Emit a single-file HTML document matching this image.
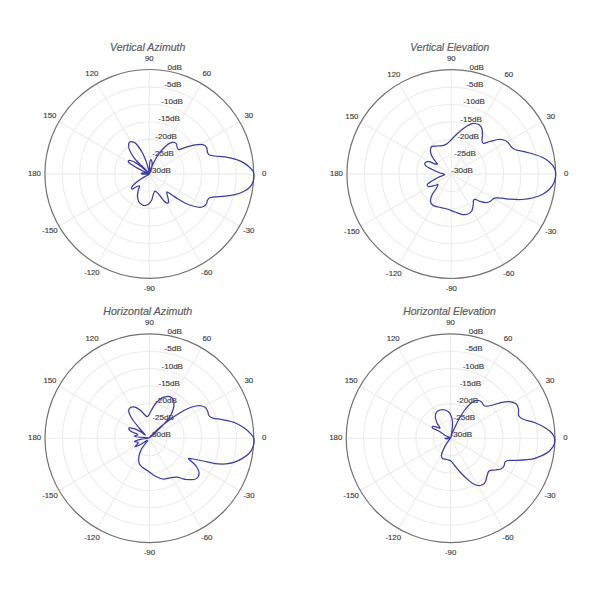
<!DOCTYPE html>
<html><head><meta charset="utf-8"><style>
html,body{margin:0;padding:0;background:#fff;width:600px;height:600px;overflow:hidden}
svg{display:block}
text{font-family:"Liberation Sans",sans-serif}
.t{font-style:italic;fill:#5e5e5e;font-size:10.2px;stroke:#5e5e5e;stroke-width:0.2px}
.l{fill:#3c3c3c;font-size:7.8px;stroke:#3c3c3c;stroke-width:0.15px}
.r{fill:#3c3c3c;font-size:7.6px;stroke:#3c3c3c;stroke-width:0.15px}
.g{fill:none;stroke:#ececec;stroke-width:1.1}
.o{fill:none;stroke:#727272;stroke-width:1.2}
.c{fill:none;stroke:#3c3cb0;stroke-width:1.25;stroke-linejoin:round}
</style></head><body>
<svg width="600" height="600" viewBox="0 0 600 600">
<g>
<circle class="g" cx="149.30" cy="173.90" r="17.40"/>
<circle class="g" cx="149.30" cy="173.90" r="34.80"/>
<circle class="g" cx="149.30" cy="173.90" r="52.20"/>
<circle class="g" cx="149.30" cy="173.90" r="69.60"/>
<circle class="g" cx="149.30" cy="173.90" r="87.00"/>
<line class="g" x1="149.30" y1="173.90" x2="253.70" y2="173.90"/>
<line class="g" x1="149.30" y1="173.90" x2="239.71" y2="121.70"/>
<line class="g" x1="149.30" y1="173.90" x2="201.50" y2="83.49"/>
<line class="g" x1="149.30" y1="173.90" x2="149.30" y2="69.50"/>
<line class="g" x1="149.30" y1="173.90" x2="97.10" y2="83.49"/>
<line class="g" x1="149.30" y1="173.90" x2="58.89" y2="121.70"/>
<line class="g" x1="149.30" y1="173.90" x2="44.90" y2="173.90"/>
<line class="g" x1="149.30" y1="173.90" x2="58.89" y2="226.10"/>
<line class="g" x1="149.30" y1="173.90" x2="97.10" y2="264.31"/>
<line class="g" x1="149.30" y1="173.90" x2="149.30" y2="278.30"/>
<line class="g" x1="149.30" y1="173.90" x2="201.50" y2="264.31"/>
<line class="g" x1="149.30" y1="173.90" x2="239.71" y2="226.10"/>
<circle class="o" cx="149.30" cy="173.90" r="104.40"/>
<text class="l" x="264.14" y="175.90" text-anchor="middle">0</text>
<text class="l" x="248.75" y="118.48" text-anchor="middle">30</text>
<text class="l" x="206.72" y="76.45" text-anchor="middle">60</text>
<text class="l" x="149.30" y="61.06" text-anchor="middle">90</text>
<text class="l" x="91.88" y="76.45" text-anchor="middle">120</text>
<text class="l" x="49.85" y="118.48" text-anchor="middle">150</text>
<text class="l" x="34.46" y="175.90" text-anchor="middle">180</text>
<text class="l" x="49.85" y="233.32" text-anchor="middle">-150</text>
<text class="l" x="91.88" y="275.35" text-anchor="middle">-120</text>
<text class="l" x="149.30" y="290.74" text-anchor="middle">-90</text>
<text class="l" x="206.72" y="275.35" text-anchor="middle">-60</text>
<text class="l" x="248.75" y="233.32" text-anchor="middle">-30</text>
<text class="r" x="149.30" y="172.80" textLength="21.50" lengthAdjust="spacingAndGlyphs">-30dB</text>
<text class="r" x="152.32" y="155.66" textLength="21.50" lengthAdjust="spacingAndGlyphs">-25dB</text>
<text class="r" x="155.34" y="138.53" textLength="21.50" lengthAdjust="spacingAndGlyphs">-20dB</text>
<text class="r" x="158.36" y="121.39" textLength="21.50" lengthAdjust="spacingAndGlyphs">-15dB</text>
<text class="r" x="161.39" y="104.26" textLength="21.50" lengthAdjust="spacingAndGlyphs">-10dB</text>
<text class="r" x="164.41" y="87.12" textLength="17.02" lengthAdjust="spacingAndGlyphs">-5dB</text>
<text class="r" x="167.43" y="69.99" textLength="14.33" lengthAdjust="spacingAndGlyphs">0dB</text>
<text class="t" x="110.00" y="50.80" textLength="75.30" lengthAdjust="spacingAndGlyphs">Vertical Azimuth</text>
<path class="c" d="M254.00,175.30 C253.97,173.60 253.75,172.65 253.00,171.30 C252.25,169.95 250.96,168.57 249.50,167.20 C248.04,165.83 246.38,164.37 244.25,163.10 C242.12,161.83 239.91,160.63 236.70,159.60 C233.49,158.57 228.62,157.50 225.00,156.90 C221.38,156.30 217.58,156.32 215.00,156.00 C212.42,155.68 210.75,155.58 209.50,155.00 C208.25,154.42 207.95,153.67 207.50,152.50 C207.05,151.33 207.30,149.22 206.80,148.00 C206.30,146.78 205.63,145.82 204.50,145.20 C203.37,144.58 201.58,144.35 200.00,144.30 C198.42,144.25 197.00,144.52 195.00,144.90 C193.00,145.28 190.17,145.98 188.00,146.60 C185.83,147.22 183.57,148.10 182.00,148.60 C180.43,149.10 179.40,149.73 178.60,149.60 C177.80,149.47 177.53,148.68 177.20,147.80 C176.87,146.92 177.03,145.18 176.60,144.30 C176.17,143.42 175.37,142.82 174.60,142.50 C173.83,142.18 173.10,142.10 172.00,142.40 C170.90,142.70 169.50,143.23 168.00,144.30 C166.50,145.37 164.67,147.02 163.00,148.80 C161.33,150.58 159.50,152.80 158.00,155.00 C156.50,157.20 155.17,159.75 154.00,162.00 C152.83,164.25 151.73,166.75 151.00,168.50 C150.27,170.25 149.85,172.58 149.60,172.50 C149.35,172.42 149.48,169.58 149.50,168.00 C149.52,166.42 149.48,164.40 149.70,163.00 C149.92,161.60 150.40,159.68 150.80,159.60 C151.20,159.52 151.97,161.10 152.10,162.50 C152.23,163.90 151.98,166.25 151.60,168.00 C151.22,169.75 150.28,172.58 149.80,173.00 C149.33,173.42 149.07,171.50 148.75,170.50 C148.43,169.50 148.39,168.67 147.90,167.00 C147.41,165.33 146.70,162.83 145.80,160.50 C144.90,158.17 143.75,155.33 142.50,153.00 C141.25,150.67 139.63,148.23 138.30,146.50 C136.97,144.77 135.72,143.42 134.50,142.60 C133.28,141.78 131.95,141.48 131.00,141.60 C130.05,141.72 129.13,142.18 128.80,143.30 C128.47,144.42 128.52,146.48 129.00,148.30 C129.48,150.12 130.57,152.25 131.70,154.20 C132.83,156.15 134.13,158.07 135.80,160.00 C137.47,161.93 139.88,164.00 141.70,165.80 C143.52,167.60 145.45,169.57 146.70,170.80 C147.95,172.03 149.07,173.02 149.20,173.20 C149.33,173.38 148.62,172.82 147.50,171.90 C146.38,170.98 144.30,169.12 142.50,167.70 C140.70,166.28 138.65,164.60 136.70,163.40 C134.75,162.20 132.20,160.87 130.80,160.50 C129.40,160.13 128.55,160.80 128.30,161.20 C128.05,161.60 128.18,161.98 129.30,162.90 C130.42,163.82 133.08,165.52 135.00,166.70 C136.92,167.88 138.85,169.02 140.80,170.00 C142.75,170.98 145.30,172.00 146.70,172.60 C148.10,173.20 149.32,173.50 149.20,173.60 C149.08,173.70 147.20,173.30 146.00,173.20 C144.80,173.10 142.75,172.90 142.00,173.00 C141.25,173.10 141.00,173.60 141.50,173.80 C142.00,174.00 143.72,174.17 145.00,174.20 C146.28,174.23 148.95,173.73 149.20,174.00 C149.45,174.27 147.75,175.05 146.50,175.80 C145.25,176.55 143.62,177.22 141.70,178.50 C139.78,179.78 136.68,182.03 135.00,183.50 C133.32,184.97 132.05,186.38 131.60,187.30 C131.15,188.22 131.65,189.00 132.30,189.00 C132.95,189.00 134.28,187.83 135.50,187.30 C136.72,186.77 139.13,185.35 139.60,185.80 C140.07,186.25 138.65,188.30 138.30,190.00 C137.95,191.70 137.42,194.05 137.50,196.00 C137.58,197.95 138.13,200.30 138.80,201.70 C139.47,203.10 140.55,203.77 141.50,204.40 C142.45,205.03 143.42,205.48 144.50,205.50 C145.58,205.52 146.83,205.33 148.00,204.50 C149.17,203.67 150.62,202.17 151.50,200.50 C152.38,198.83 152.72,196.05 153.30,194.50 C153.88,192.95 154.17,191.32 155.00,191.20 C155.83,191.08 157.13,192.57 158.30,193.80 C159.47,195.03 160.92,197.27 162.00,198.60 C163.08,199.93 164.02,201.05 164.80,201.80 C165.58,202.55 166.10,202.98 166.70,203.10 C167.30,203.22 168.13,203.13 168.40,202.50 C168.67,201.87 168.53,200.72 168.30,199.30 C168.07,197.88 167.17,195.22 167.00,194.00 C166.83,192.78 166.47,191.83 167.30,192.00 C168.13,192.17 170.22,193.83 172.00,195.00 C173.78,196.17 175.83,197.67 178.00,199.00 C180.17,200.33 182.50,201.83 185.00,203.00 C187.50,204.17 190.50,205.28 193.00,206.00 C195.50,206.72 198.17,207.25 200.00,207.30 C201.83,207.35 202.93,206.88 204.00,206.30 C205.07,205.72 205.82,204.80 206.40,203.80 C206.98,202.80 206.93,201.32 207.50,200.30 C208.07,199.28 208.55,198.27 209.80,197.70 C211.05,197.13 212.47,197.15 215.00,196.90 C217.53,196.65 221.67,196.58 225.00,196.20 C228.33,195.82 231.83,195.43 235.00,194.60 C238.17,193.77 241.50,192.47 244.00,191.20 C246.50,189.93 248.47,188.62 250.00,187.00 C251.53,185.38 252.53,183.45 253.20,181.50 C253.87,179.55 254.03,177.00 254.00,175.30Z"/>
<circle class="g" cx="451.30" cy="174.10" r="17.40"/>
<circle class="g" cx="451.30" cy="174.10" r="34.80"/>
<circle class="g" cx="451.30" cy="174.10" r="52.20"/>
<circle class="g" cx="451.30" cy="174.10" r="69.60"/>
<circle class="g" cx="451.30" cy="174.10" r="87.00"/>
<line class="g" x1="451.30" y1="174.10" x2="555.70" y2="174.10"/>
<line class="g" x1="451.30" y1="174.10" x2="541.71" y2="121.90"/>
<line class="g" x1="451.30" y1="174.10" x2="503.50" y2="83.69"/>
<line class="g" x1="451.30" y1="174.10" x2="451.30" y2="69.70"/>
<line class="g" x1="451.30" y1="174.10" x2="399.10" y2="83.69"/>
<line class="g" x1="451.30" y1="174.10" x2="360.89" y2="121.90"/>
<line class="g" x1="451.30" y1="174.10" x2="346.90" y2="174.10"/>
<line class="g" x1="451.30" y1="174.10" x2="360.89" y2="226.30"/>
<line class="g" x1="451.30" y1="174.10" x2="399.10" y2="264.51"/>
<line class="g" x1="451.30" y1="174.10" x2="451.30" y2="278.50"/>
<line class="g" x1="451.30" y1="174.10" x2="503.50" y2="264.51"/>
<line class="g" x1="451.30" y1="174.10" x2="541.71" y2="226.30"/>
<circle class="o" cx="451.30" cy="174.10" r="104.40"/>
<text class="l" x="566.14" y="176.10" text-anchor="middle">0</text>
<text class="l" x="550.75" y="118.68" text-anchor="middle">30</text>
<text class="l" x="508.72" y="76.65" text-anchor="middle">60</text>
<text class="l" x="451.30" y="61.26" text-anchor="middle">90</text>
<text class="l" x="393.88" y="76.65" text-anchor="middle">120</text>
<text class="l" x="351.85" y="118.68" text-anchor="middle">150</text>
<text class="l" x="336.46" y="176.10" text-anchor="middle">180</text>
<text class="l" x="351.85" y="233.52" text-anchor="middle">-150</text>
<text class="l" x="393.88" y="275.55" text-anchor="middle">-120</text>
<text class="l" x="451.30" y="290.94" text-anchor="middle">-90</text>
<text class="l" x="508.72" y="275.55" text-anchor="middle">-60</text>
<text class="l" x="550.75" y="233.52" text-anchor="middle">-30</text>
<text class="r" x="451.30" y="173.00" textLength="21.50" lengthAdjust="spacingAndGlyphs">-30dB</text>
<text class="r" x="454.32" y="155.86" textLength="21.50" lengthAdjust="spacingAndGlyphs">-25dB</text>
<text class="r" x="457.34" y="138.73" textLength="21.50" lengthAdjust="spacingAndGlyphs">-20dB</text>
<text class="r" x="460.36" y="121.59" textLength="21.50" lengthAdjust="spacingAndGlyphs">-15dB</text>
<text class="r" x="463.39" y="104.46" textLength="21.50" lengthAdjust="spacingAndGlyphs">-10dB</text>
<text class="r" x="466.41" y="87.32" textLength="17.02" lengthAdjust="spacingAndGlyphs">-5dB</text>
<text class="r" x="469.43" y="70.19" textLength="14.33" lengthAdjust="spacingAndGlyphs">0dB</text>
<text class="t" x="410.30" y="50.80" textLength="78.90" lengthAdjust="spacingAndGlyphs">Vertical Elevation</text>
<path class="c" d="M555.70,174.10 C555.70,171.77 555.30,169.98 554.30,168.00 C553.30,166.02 551.63,163.95 549.70,162.20 C547.77,160.45 545.43,158.87 542.70,157.50 C539.97,156.13 536.42,154.97 533.30,154.00 C530.18,153.03 527.05,152.45 524.00,151.70 C520.95,150.95 517.17,150.37 515.00,149.50 C512.83,148.63 512.17,147.67 511.00,146.50 C509.83,145.33 509.17,143.58 508.00,142.50 C506.83,141.42 505.67,140.50 504.00,140.00 C502.33,139.50 500.33,139.25 498.00,139.50 C495.67,139.75 492.42,140.87 490.00,141.50 C487.58,142.13 484.83,143.47 483.50,143.30 C482.17,143.13 482.17,141.88 482.00,140.50 C481.83,139.12 482.50,136.92 482.50,135.00 C482.50,133.08 482.50,130.67 482.00,129.00 C481.50,127.33 480.67,125.92 479.50,125.00 C478.33,124.08 476.58,123.62 475.00,123.50 C473.42,123.38 471.83,123.55 470.00,124.30 C468.17,125.05 466.00,126.55 464.00,128.00 C462.00,129.45 460.00,131.17 458.00,133.00 C456.00,134.83 453.83,137.20 452.00,139.00 C450.17,140.80 448.58,142.68 447.00,143.80 C445.42,144.92 444.17,145.33 442.50,145.70 C440.83,146.07 438.75,145.88 437.00,146.00 C435.25,146.12 433.08,145.82 432.00,146.40 C430.92,146.98 430.67,148.23 430.50,149.50 C430.33,150.77 430.58,152.58 431.00,154.00 C431.42,155.42 432.25,156.75 433.00,158.00 C433.75,159.25 434.75,160.47 435.50,161.50 C436.25,162.53 437.72,163.85 437.50,164.20 C437.28,164.55 435.58,164.02 434.20,163.60 C432.82,163.18 430.67,161.92 429.20,161.70 C427.73,161.48 426.00,161.65 425.40,162.30 C424.80,162.95 424.55,164.45 425.60,165.60 C426.65,166.75 429.47,168.05 431.70,169.20 C433.93,170.35 436.85,171.60 439.00,172.50 C441.15,173.40 444.77,173.77 444.60,174.60 C444.43,175.43 440.27,176.35 438.00,177.50 C435.73,178.65 432.75,180.37 431.00,181.50 C429.25,182.63 427.92,183.47 427.50,184.30 C427.08,185.13 427.25,186.30 428.50,186.50 C429.75,186.70 433.42,185.83 435.00,185.50 C436.58,185.17 437.83,183.92 438.00,184.50 C438.17,185.08 437.00,187.25 436.00,189.00 C435.00,190.75 432.92,193.00 432.00,195.00 C431.08,197.00 430.42,199.33 430.50,201.00 C430.58,202.67 431.25,204.00 432.50,205.00 C433.75,206.00 435.58,206.33 438.00,207.00 C440.42,207.67 444.17,208.17 447.00,209.00 C449.83,209.83 452.50,211.10 455.00,212.00 C457.50,212.90 459.83,214.07 462.00,214.40 C464.17,214.73 466.33,214.65 468.00,214.00 C469.67,213.35 471.12,212.17 472.00,210.50 C472.88,208.83 473.05,205.67 473.30,204.00 C473.55,202.33 473.17,201.27 473.50,200.50 C473.83,199.73 474.22,199.27 475.30,199.40 C476.38,199.53 478.22,200.78 480.00,201.30 C481.78,201.82 484.33,202.47 486.00,202.50 C487.67,202.53 488.83,202.08 490.00,201.50 C491.17,200.92 492.00,199.60 493.00,199.00 C494.00,198.40 494.50,198.03 496.00,197.90 C497.50,197.77 499.67,197.98 502.00,198.20 C504.33,198.42 506.72,198.98 510.00,199.20 C513.28,199.42 517.82,199.74 521.70,199.50 C525.58,199.26 529.80,198.62 533.30,197.75 C536.80,196.88 539.97,195.71 542.70,194.25 C545.43,192.79 547.77,191.04 549.70,189.00 C551.63,186.96 553.30,184.48 554.30,182.00 C555.30,179.52 555.70,176.43 555.70,174.10Z"/>
<circle class="g" cx="149.40" cy="438.20" r="17.40"/>
<circle class="g" cx="149.40" cy="438.20" r="34.80"/>
<circle class="g" cx="149.40" cy="438.20" r="52.20"/>
<circle class="g" cx="149.40" cy="438.20" r="69.60"/>
<circle class="g" cx="149.40" cy="438.20" r="87.00"/>
<line class="g" x1="149.40" y1="438.20" x2="253.80" y2="438.20"/>
<line class="g" x1="149.40" y1="438.20" x2="239.81" y2="386.00"/>
<line class="g" x1="149.40" y1="438.20" x2="201.60" y2="347.79"/>
<line class="g" x1="149.40" y1="438.20" x2="149.40" y2="333.80"/>
<line class="g" x1="149.40" y1="438.20" x2="97.20" y2="347.79"/>
<line class="g" x1="149.40" y1="438.20" x2="58.99" y2="386.00"/>
<line class="g" x1="149.40" y1="438.20" x2="45.00" y2="438.20"/>
<line class="g" x1="149.40" y1="438.20" x2="58.99" y2="490.40"/>
<line class="g" x1="149.40" y1="438.20" x2="97.20" y2="528.61"/>
<line class="g" x1="149.40" y1="438.20" x2="149.40" y2="542.60"/>
<line class="g" x1="149.40" y1="438.20" x2="201.60" y2="528.61"/>
<line class="g" x1="149.40" y1="438.20" x2="239.81" y2="490.40"/>
<circle class="o" cx="149.40" cy="438.20" r="104.40"/>
<text class="l" x="264.24" y="440.20" text-anchor="middle">0</text>
<text class="l" x="248.85" y="382.78" text-anchor="middle">30</text>
<text class="l" x="206.82" y="340.75" text-anchor="middle">60</text>
<text class="l" x="149.40" y="325.36" text-anchor="middle">90</text>
<text class="l" x="91.98" y="340.75" text-anchor="middle">120</text>
<text class="l" x="49.95" y="382.78" text-anchor="middle">150</text>
<text class="l" x="34.56" y="440.20" text-anchor="middle">180</text>
<text class="l" x="49.95" y="497.62" text-anchor="middle">-150</text>
<text class="l" x="91.98" y="539.65" text-anchor="middle">-120</text>
<text class="l" x="149.40" y="555.04" text-anchor="middle">-90</text>
<text class="l" x="206.82" y="539.65" text-anchor="middle">-60</text>
<text class="l" x="248.85" y="497.62" text-anchor="middle">-30</text>
<text class="r" x="149.40" y="437.10" textLength="21.50" lengthAdjust="spacingAndGlyphs">-30dB</text>
<text class="r" x="152.42" y="419.96" textLength="21.50" lengthAdjust="spacingAndGlyphs">-25dB</text>
<text class="r" x="155.44" y="402.83" textLength="21.50" lengthAdjust="spacingAndGlyphs">-20dB</text>
<text class="r" x="158.46" y="385.69" textLength="21.50" lengthAdjust="spacingAndGlyphs">-15dB</text>
<text class="r" x="161.49" y="368.56" textLength="21.50" lengthAdjust="spacingAndGlyphs">-10dB</text>
<text class="r" x="164.51" y="351.42" textLength="17.02" lengthAdjust="spacingAndGlyphs">-5dB</text>
<text class="r" x="167.53" y="334.29" textLength="14.33" lengthAdjust="spacingAndGlyphs">0dB</text>
<text class="t" x="103.25" y="315.40" textLength="88.95" lengthAdjust="spacingAndGlyphs">Horizontal Azimuth</text>
<path class="c" d="M254.00,439.00 C253.70,436.95 252.92,436.23 251.30,434.40 C249.68,432.57 247.02,429.94 244.30,428.00 C241.58,426.06 238.50,424.12 235.00,422.75 C231.50,421.38 227.00,420.57 223.30,419.80 C219.60,419.03 215.20,418.82 212.80,418.10 C210.40,417.38 209.77,416.67 208.90,415.50 C208.03,414.33 208.17,412.42 207.60,411.10 C207.03,409.78 206.43,408.45 205.50,407.60 C204.57,406.75 203.58,406.27 202.00,406.00 C200.42,405.73 198.33,405.58 196.00,406.00 C193.67,406.42 191.00,407.17 188.00,408.50 C185.00,409.83 181.33,411.92 178.00,414.00 C174.67,416.08 171.33,418.50 168.00,421.00 C164.67,423.50 160.58,426.75 158.00,429.00 C155.42,431.25 153.90,433.07 152.50,434.50 C151.10,435.93 149.68,437.38 149.60,437.60 C149.52,437.82 150.77,436.90 152.00,435.80 C153.23,434.70 155.17,432.80 157.00,431.00 C158.83,429.20 161.00,427.17 163.00,425.00 C165.00,422.83 167.33,420.50 169.00,418.00 C170.67,415.50 172.17,412.50 173.00,410.00 C173.83,407.50 174.08,404.95 174.00,403.00 C173.92,401.05 173.50,399.42 172.50,398.30 C171.50,397.18 169.75,396.37 168.00,396.30 C166.25,396.23 164.00,396.78 162.00,397.90 C160.00,399.02 157.75,400.98 156.00,403.00 C154.25,405.02 152.63,408.08 151.50,410.00 C150.37,411.92 149.95,413.40 149.20,414.50 C148.45,415.60 147.83,416.65 147.00,416.60 C146.17,416.55 145.37,415.30 144.20,414.20 C143.03,413.10 141.53,411.18 140.00,410.00 C138.47,408.82 136.53,407.55 135.00,407.10 C133.47,406.65 131.84,406.82 130.80,407.30 C129.76,407.78 128.95,408.85 128.75,410.00 C128.55,411.15 128.86,412.45 129.60,414.20 C130.34,415.95 131.60,418.20 133.20,420.50 C134.80,422.80 137.20,425.60 139.20,428.00 C141.20,430.40 144.97,434.30 145.20,434.90 C145.43,435.50 142.42,432.63 140.60,431.60 C138.78,430.57 136.15,429.32 134.30,428.70 C132.45,428.08 130.38,427.80 129.50,427.90 C128.62,428.00 128.54,428.62 129.00,429.30 C129.46,429.98 130.80,431.13 132.25,432.00 C133.70,432.87 137.36,433.82 137.70,434.50 C138.04,435.18 134.17,435.68 134.30,436.10 C134.43,436.52 136.05,436.72 138.50,437.00 C140.95,437.28 148.50,437.43 149.00,437.80 C149.50,438.17 143.90,438.60 141.50,439.20 C139.10,439.80 135.13,440.80 134.60,441.40 C134.07,442.00 138.23,441.93 138.30,442.80 C138.37,443.67 134.72,446.27 135.00,446.60 C135.28,446.93 137.92,445.85 140.00,444.80 C142.08,443.75 146.73,440.35 147.50,440.30 C148.27,440.25 145.64,442.97 144.60,444.50 C143.56,446.03 142.18,447.58 141.25,449.50 C140.32,451.42 139.38,453.75 139.00,456.00 C138.62,458.25 138.50,461.17 139.00,463.00 C139.50,464.83 140.50,465.67 142.00,467.00 C143.50,468.33 145.83,469.50 148.00,471.00 C150.17,472.50 152.50,474.67 155.00,476.00 C157.50,477.33 160.50,478.70 163.00,479.00 C165.50,479.30 167.67,478.10 170.00,477.80 C172.33,477.50 175.00,477.08 177.00,477.20 C179.00,477.32 180.50,478.12 182.00,478.50 C183.50,478.88 184.00,479.33 186.00,479.50 C188.00,479.67 192.00,479.92 194.00,479.50 C196.00,479.08 197.17,478.25 198.00,477.00 C198.83,475.75 199.33,473.83 199.00,472.00 C198.67,470.17 197.33,467.83 196.00,466.00 C194.67,464.17 192.25,462.25 191.00,461.00 C189.75,459.75 188.17,458.83 188.50,458.50 C188.83,458.17 190.58,458.58 193.00,459.00 C195.42,459.42 199.33,460.23 203.00,461.00 C206.67,461.77 211.17,463.12 215.00,463.60 C218.83,464.08 222.75,464.13 226.00,463.90 C229.25,463.67 231.83,463.08 234.50,462.20 C237.17,461.32 239.58,460.05 242.00,458.60 C244.42,457.15 247.15,455.48 249.00,453.50 C250.85,451.52 252.27,449.12 253.10,446.70 C253.93,444.28 254.30,441.05 254.00,439.00Z"/>
<circle class="g" cx="450.60" cy="438.20" r="17.40"/>
<circle class="g" cx="450.60" cy="438.20" r="34.80"/>
<circle class="g" cx="450.60" cy="438.20" r="52.20"/>
<circle class="g" cx="450.60" cy="438.20" r="69.60"/>
<circle class="g" cx="450.60" cy="438.20" r="87.00"/>
<line class="g" x1="450.60" y1="438.20" x2="555.00" y2="438.20"/>
<line class="g" x1="450.60" y1="438.20" x2="541.01" y2="386.00"/>
<line class="g" x1="450.60" y1="438.20" x2="502.80" y2="347.79"/>
<line class="g" x1="450.60" y1="438.20" x2="450.60" y2="333.80"/>
<line class="g" x1="450.60" y1="438.20" x2="398.40" y2="347.79"/>
<line class="g" x1="450.60" y1="438.20" x2="360.19" y2="386.00"/>
<line class="g" x1="450.60" y1="438.20" x2="346.20" y2="438.20"/>
<line class="g" x1="450.60" y1="438.20" x2="360.19" y2="490.40"/>
<line class="g" x1="450.60" y1="438.20" x2="398.40" y2="528.61"/>
<line class="g" x1="450.60" y1="438.20" x2="450.60" y2="542.60"/>
<line class="g" x1="450.60" y1="438.20" x2="502.80" y2="528.61"/>
<line class="g" x1="450.60" y1="438.20" x2="541.01" y2="490.40"/>
<circle class="o" cx="450.60" cy="438.20" r="104.40"/>
<text class="l" x="565.44" y="440.20" text-anchor="middle">0</text>
<text class="l" x="550.05" y="382.78" text-anchor="middle">30</text>
<text class="l" x="508.02" y="340.75" text-anchor="middle">60</text>
<text class="l" x="450.60" y="325.36" text-anchor="middle">90</text>
<text class="l" x="393.18" y="340.75" text-anchor="middle">120</text>
<text class="l" x="351.15" y="382.78" text-anchor="middle">150</text>
<text class="l" x="335.76" y="440.20" text-anchor="middle">180</text>
<text class="l" x="351.15" y="497.62" text-anchor="middle">-150</text>
<text class="l" x="393.18" y="539.65" text-anchor="middle">-120</text>
<text class="l" x="450.60" y="555.04" text-anchor="middle">-90</text>
<text class="l" x="508.02" y="539.65" text-anchor="middle">-60</text>
<text class="l" x="550.05" y="497.62" text-anchor="middle">-30</text>
<text class="r" x="450.60" y="437.10" textLength="21.50" lengthAdjust="spacingAndGlyphs">-30dB</text>
<text class="r" x="453.62" y="419.96" textLength="21.50" lengthAdjust="spacingAndGlyphs">-25dB</text>
<text class="r" x="456.64" y="402.83" textLength="21.50" lengthAdjust="spacingAndGlyphs">-20dB</text>
<text class="r" x="459.66" y="385.69" textLength="21.50" lengthAdjust="spacingAndGlyphs">-15dB</text>
<text class="r" x="462.69" y="368.56" textLength="21.50" lengthAdjust="spacingAndGlyphs">-10dB</text>
<text class="r" x="465.71" y="351.42" textLength="17.02" lengthAdjust="spacingAndGlyphs">-5dB</text>
<text class="r" x="468.73" y="334.29" textLength="14.33" lengthAdjust="spacingAndGlyphs">0dB</text>
<text class="t" x="403.25" y="315.40" textLength="92.55" lengthAdjust="spacingAndGlyphs">Horizontal Elevation</text>
<path class="c" d="M554.80,440.00 C554.70,437.85 554.05,435.80 552.50,433.80 C550.95,431.80 548.42,429.84 545.50,428.00 C542.58,426.16 538.70,424.21 535.00,422.75 C531.30,421.29 526.02,420.42 523.30,419.25 C520.58,418.08 519.50,417.41 518.70,415.75 C517.90,414.09 518.90,411.24 518.50,409.30 C518.10,407.36 517.83,405.38 516.30,404.10 C514.77,402.82 512.02,401.82 509.30,401.60 C506.58,401.38 502.72,402.23 500.00,402.80 C497.28,403.37 495.33,404.43 493.00,405.00 C490.67,405.57 487.58,406.20 486.00,406.20 C484.42,406.20 484.25,405.70 483.50,405.00 C482.75,404.30 482.33,402.75 481.50,402.00 C480.67,401.25 479.58,400.67 478.50,400.50 C477.42,400.33 476.42,400.42 475.00,401.00 C473.58,401.58 471.83,402.33 470.00,404.00 C468.17,405.67 465.83,408.50 464.00,411.00 C462.17,413.50 460.50,416.33 459.00,419.00 C457.50,421.67 455.95,425.08 455.00,427.00 C454.05,428.92 453.88,429.17 453.30,430.50 C452.72,431.83 451.92,433.83 451.50,435.00 C451.08,436.17 450.77,437.92 450.80,437.50 C450.83,437.08 451.42,434.72 451.70,432.50 C451.98,430.28 452.50,426.70 452.50,424.20 C452.50,421.70 452.25,419.45 451.70,417.50 C451.15,415.55 450.32,413.75 449.20,412.50 C448.08,411.25 446.53,410.42 445.00,410.00 C443.47,409.58 441.46,409.58 440.00,410.00 C438.54,410.42 437.02,411.25 436.25,412.50 C435.48,413.75 435.26,415.70 435.40,417.50 C435.54,419.30 436.33,421.55 437.10,423.30 C437.87,425.05 440.18,427.42 440.00,428.00 C439.82,428.58 437.25,427.08 436.00,426.80 C434.75,426.52 433.03,426.07 432.50,426.30 C431.97,426.53 432.13,427.58 432.80,428.20 C433.47,428.82 435.30,429.42 436.50,430.00 C437.70,430.58 438.45,430.73 440.00,431.70 C441.55,432.67 444.08,434.78 445.80,435.80 C447.52,436.82 450.10,437.42 450.30,437.80 C450.50,438.18 447.88,438.00 447.00,438.10 C446.12,438.20 444.92,438.28 445.00,438.40 C445.08,438.52 446.62,438.83 447.50,438.80 C448.38,438.77 450.45,437.43 450.30,438.20 C450.15,438.97 447.75,441.50 446.60,443.40 C445.45,445.30 444.25,447.70 443.40,449.60 C442.55,451.50 441.65,453.33 441.50,454.80 C441.35,456.27 441.58,457.62 442.50,458.40 C443.42,459.18 445.58,459.07 447.00,459.50 C448.42,459.93 449.67,459.92 451.00,461.00 C452.33,462.08 453.50,464.17 455.00,466.00 C456.50,467.83 458.17,470.00 460.00,472.00 C461.83,474.00 464.00,476.17 466.00,478.00 C468.00,479.83 470.00,481.75 472.00,483.00 C474.00,484.25 476.17,485.25 478.00,485.50 C479.83,485.75 481.75,485.17 483.00,484.50 C484.25,483.83 484.83,482.92 485.50,481.50 C486.17,480.08 486.42,477.75 487.00,476.00 C487.58,474.25 487.67,472.00 489.00,471.00 C490.33,470.00 493.00,470.33 495.00,470.00 C497.00,469.67 499.50,469.67 501.00,469.00 C502.50,468.33 503.33,467.17 504.00,466.00 C504.67,464.83 504.33,462.92 505.00,462.00 C505.67,461.08 506.00,460.78 508.00,460.50 C510.00,460.22 513.83,460.45 517.00,460.30 C520.17,460.15 524.00,459.93 527.00,459.60 C530.00,459.27 531.72,459.38 535.00,458.30 C538.28,457.22 543.68,455.03 546.70,453.10 C549.72,451.17 551.75,448.88 553.10,446.70 C554.45,444.52 554.90,442.15 554.80,440.00Z"/>
</g></svg></body></html>
